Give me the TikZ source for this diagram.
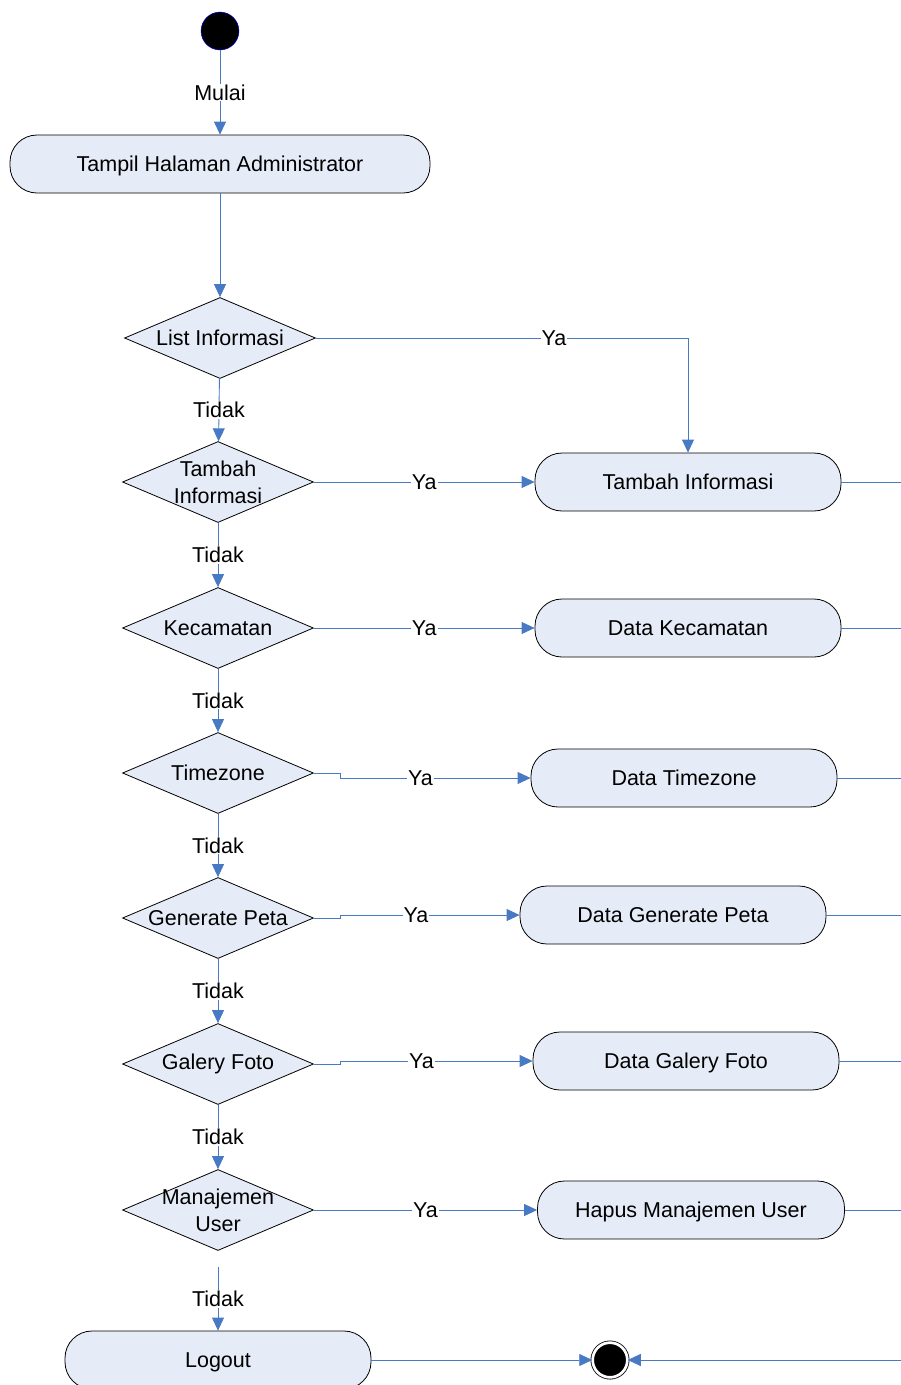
\documentclass[tikz,border=0pt]{standalone}
\usepackage{fontspec}
\setmainfont{Liberation Sans}
\usetikzlibrary{arrows.meta,shapes.geometric}
\definecolor{flowblue}{RGB}{72,122,196}
\definecolor{actfill}{RGB}{230,236,247}
\tikzstyle{activity}=[rectangle,rounded corners=27pt,draw=black,line width=0.8pt,fill=actfill,minimum width=306pt,minimum height=58pt,inner sep=0pt,text height=15.4pt,text depth=0pt]
\tikzstyle{decision}=[diamond,draw=black,line width=0.8pt,fill=actfill,minimum width=191pt,minimum height=81pt,inner sep=0pt]
\tikzstyle{initial}=[circle,draw=blue,fill=black,minimum size=38pt,inner sep=0pt]
\tikzstyle{final}=[circle,draw=black,line width=0.8pt,double=white,double distance=2.7pt,fill=black,minimum size=34.7pt,inner sep=0pt]
\tikzstyle{guard}=[fill=white,text=black,inner sep=1pt]
\tikzstyle{flow}=[color=flowblue,line width=0.9pt]
\tikzstyle{flowto}=[flow,->]

\begin{document}
\begin{tikzpicture}[x=1pt,y=-1pt,>={Triangle[length=13pt,width=12pt]},font=\fontsize{21.5}{27}\selectfont]
  \useasboundingbox (0,0) rectangle (901,1385);
  \coordinate (rim) at (901,0);
  % start
  \node (start) [initial] at (220,31) {};
  \node (admin) [activity,minimum width=420pt] at (220,164) {Tampil Halaman Administrator};
  % menu choices
  \node (d1) [decision,label={center:List Informasi}] at (220,338) {};
  \node (d2) [decision,label={[align=center]center:Tambah\\Informasi}] at (218,482) {};
  \node (d3) [decision,label={center:Kecamatan}] at (218,628) {};
  \node (d4) [decision,label={center:Timezone}] at (218,773) {};
  \node (d5) [decision,label={center:Generate Peta}] at (218,918) {};
  \node (d6) [decision,label={center:Galery Foto}] at (218,1064) {};
  \node (d7) [decision,label={[align=center]center:Manajemen\\User}] at (218,1210) {};
  \coordinate (d7gap) at (218,1267);
  % actions
  \node (tambah) [activity] at (688,482) {Tambah Informasi};
  \node (kecamatan) [activity] at (688,628) {Data Kecamatan};
  \node (timezone) [activity] at (684,778) {Data Timezone};
  \node (peta) [activity] at (673,915) {Data Generate Peta};
  \node (foto) [activity] at (686,1061) {Data Galery Foto};
  \node (hapus) [activity,minimum width=307pt] at (691,1210) {Hapus Manajemen User};
  \node (logout) [activity] at (218,1360) {Logout};
  \node (end) [final] at (610,1360) {};

  \path
  (start) edge[flowto] node[guard]{Mulai} (admin)
  (admin) edge[flowto] (d1)
  (d1) edge[flowto] node[guard]{Tidak} (d2)
  (d2) edge[flowto] node[guard]{Tidak} (d3)
  (d3) edge[flowto] node[guard]{Tidak} (d4)
  (d4) edge[flowto] node[guard]{Tidak} (d5)
  (d5) edge[flowto] node[guard]{Tidak} (d6)
  (d6) edge[flowto] node[guard]{Tidak} (d7)
  (d7gap) edge[flowto] node[guard]{Tidak} (logout)
  (d2) edge[flowto] node[guard]{Ya} (tambah)
  (d3) edge[flowto] node[guard]{Ya} (kecamatan)
  (d7) edge[flowto] node[guard]{Ya} (hapus)
  (logout) edge[flowto] (end)
  (rim |- end) edge[flowto] (end);
  \draw[flowto] (d1.east) -| node[guard,pos=0.32]{Ya} (tambah);
  \draw[flowto] (d4.east) -- ++(27,0) |- node[guard,pos=0.71]{Ya} (timezone);
  \draw[flowto] (d5.east) -- ++(27,0) |- node[guard,pos=0.71]{Ya} (peta);
  \draw[flowto] (d6.east) -- ++(27,0) |- node[guard,pos=0.71]{Ya} (foto);
  % towards the final node
  \path
  (tambah) edge[flow] (tambah -| rim)
  (kecamatan) edge[flow] (kecamatan -| rim)
  (timezone) edge[flow] (timezone -| rim)
  (peta) edge[flow] (peta -| rim)
  (foto) edge[flow] (foto -| rim)
  (hapus) edge[flow] (hapus -| rim);
\end{tikzpicture}
\end{document}
